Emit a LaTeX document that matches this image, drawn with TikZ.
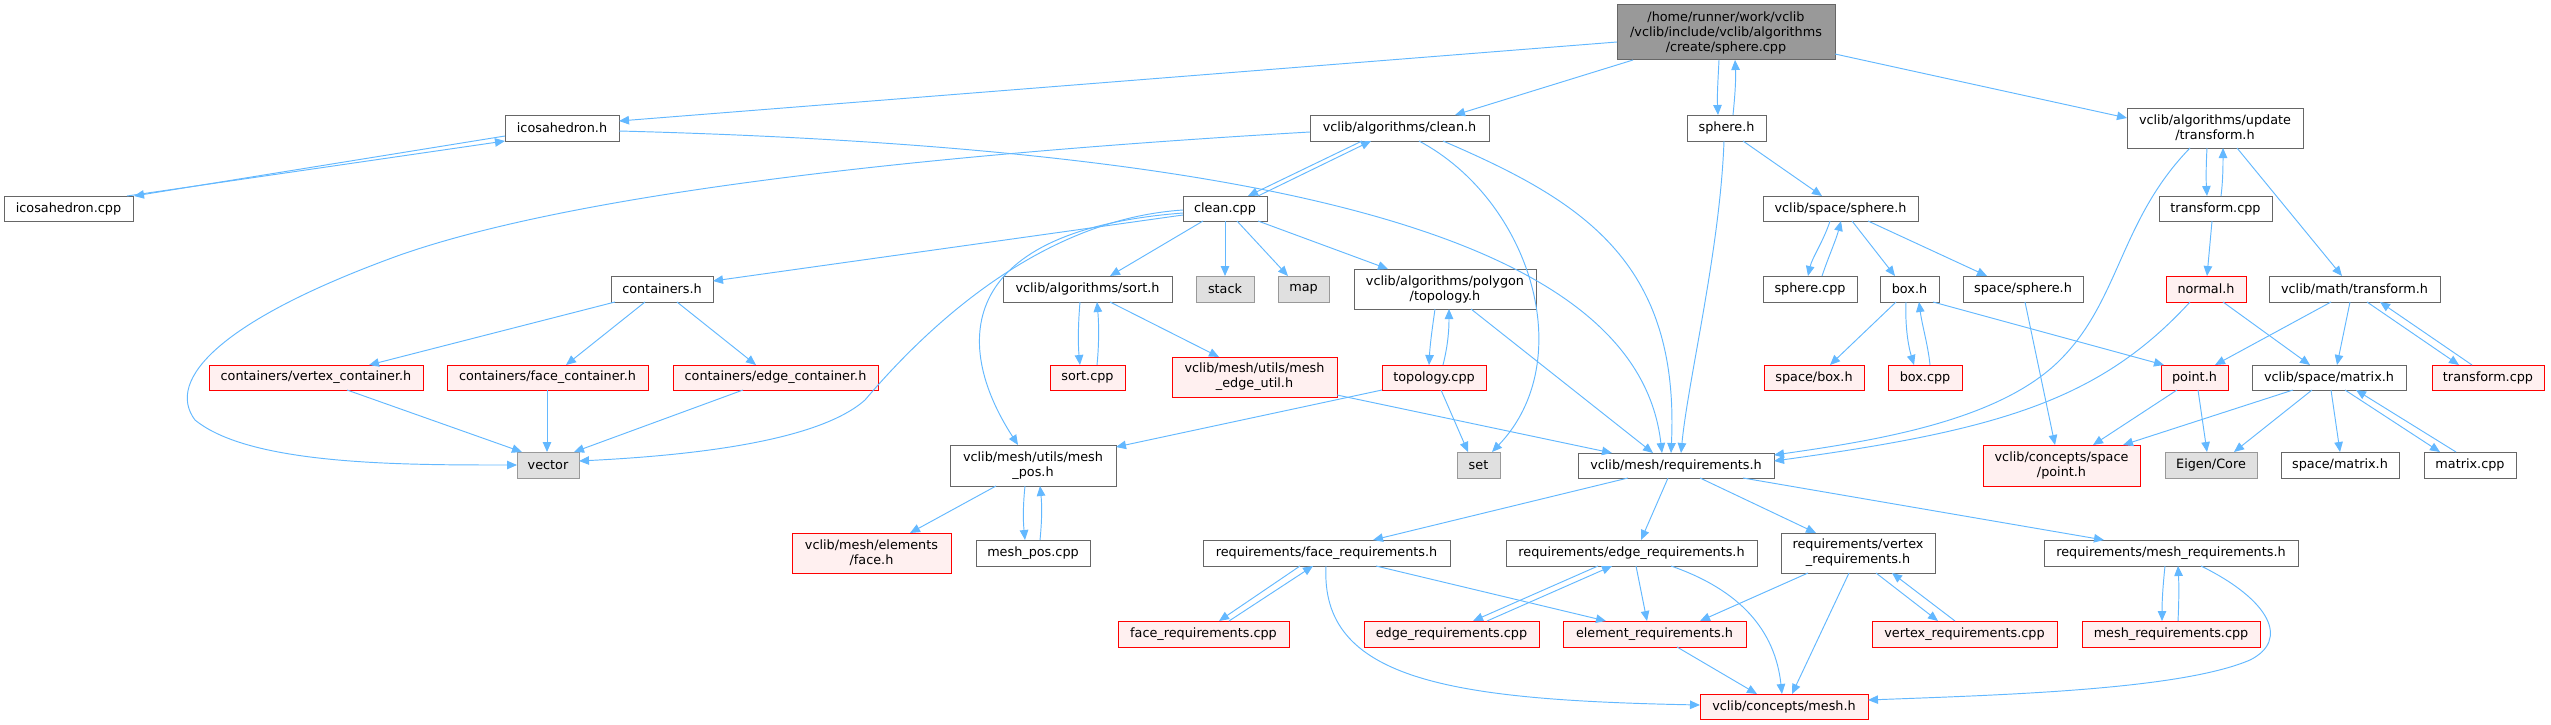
\documentclass[tikz,border=0pt]{standalone}
\usepackage{fontspec}
\setmainfont{DejaVu Sans}
\usetikzlibrary{arrows.meta,calc}
\definecolor{edgec}{HTML}{63B8FF}
\definecolor{ndgray}{HTML}{666666}
\definecolor{redfill}{HTML}{FFF0F0}
\definecolor{sysgray}{HTML}{999999}
\definecolor{sysfill}{HTML}{E0E0E0}
\definecolor{mainfill}{HTML}{999999}
\newcommand\fsz{\fontsize{12.8}{15}\selectfont}
\tikzset{
 nd/.style={draw=ndgray, fill=white, line width=1pt, inner sep=0pt, align=center, font=\fsz, text=black},
 rd/.style={nd, draw=red, fill=redfill},
 gr/.style={nd, draw=sysgray, fill=sysfill},
 mn/.style={nd, fill=mainfill},
 ed/.style={draw=edgec, line width=0.95pt, -{Triangle[length=10pt,width=8.5pt]}},
}
\begin{document}
\begin{tikzpicture}[x=1pt,y=-1pt]
\useasboundingbox (0,0) rectangle (2551,725);
% row 0
\node[mn, minimum width=218pt, minimum height=55pt] (main) at (1726,32.5) {/home/runner/work/vclib\\/vclib/include/vclib/algorithms\\/create/sphere.cpp};
% row 1
\node[nd, minimum width=114pt, minimum height=26pt] (icoh) at (562,128) {icosahedron.h};
\node[nd, minimum width=179pt, minimum height=26pt] (cleanh) at (1399.5,128) {vclib/algorithms/clean.h};
\node[nd, minimum width=79pt, minimum height=26pt] (sphereh) at (1726.5,128) {sphere.h};
\node[nd, minimum width=176pt, minimum height=40pt] (trh) at (2215,128) {vclib/algorithms/update\\/transform.h};
% row 2
\node[nd, minimum width=129pt, minimum height=25pt] (icocpp) at (68.5,208.5) {icosahedron.cpp};
\node[nd, minimum width=84pt, minimum height=25pt] (cleancpp) at (1225,208.5) {clean.cpp};
\node[nd, minimum width=155pt, minimum height=25pt] (vsph) at (1840.5,208.5) {vclib/space/sphere.h};
\node[nd, minimum width=113pt, minimum height=25pt] (trcpp) at (2215.5,208.5) {transform.cpp};
% row 3
\node[nd, minimum width=102pt, minimum height=26pt] (cont) at (662,289) {containers.h};
\node[nd, minimum width=169pt, minimum height=26pt] (sorth) at (1087.5,289) {vclib/algorithms/sort.h};
\node[gr, minimum width=58pt, minimum height=26pt] (stack) at (1225,289) {stack};
\node[gr, minimum width=51pt, minimum height=26pt] (map) at (1303.5,289) {map};
\node[nd, minimum width=182pt, minimum height=40pt] (topoh) at (1445,289) {vclib/algorithms/polygon\\/topology.h};
\node[nd, minimum width=94pt, minimum height=26pt] (sphcpp) at (1810,289) {sphere.cpp};
\node[nd, minimum width=59pt, minimum height=26pt] (boxh) at (1909.5,289) {box.h};
\node[nd, minimum width=120pt, minimum height=26pt] (ssph) at (2023,289) {space/sphere.h};
\node[rd, minimum width=80pt, minimum height=26pt] (normal) at (2206,289) {normal.h};
\node[nd, minimum width=171pt, minimum height=26pt] (mtr) at (2354.5,289) {vclib/math/transform.h};
% row 4
\node[rd, minimum width=214pt, minimum height=25pt] (vcont) at (316,377.5) {containers/vertex\_container.h};
\node[rd, minimum width=201pt, minimum height=25pt] (fcont) at (547.5,377.5) {containers/face\_container.h};
\node[rd, minimum width=205pt, minimum height=25pt] (econt) at (775.5,377.5) {containers/edge\_container.h};
\node[rd, minimum width=75pt, minimum height=25pt] (sortcpp) at (1087.5,377.5) {sort.cpp};
\node[rd, minimum width=165pt, minimum height=40pt] (meu) at (1254.5,377) {vclib/mesh/utils/mesh\\\_edge\_util.h};
\node[rd, minimum width=104pt, minimum height=25pt] (topocpp) at (1434,377.5) {topology.cpp};
\node[rd, minimum width=100pt, minimum height=25pt] (sbox) at (1814,377.5) {space/box.h};
\node[rd, minimum width=74pt, minimum height=25pt] (boxcpp) at (1925,377.5) {box.cpp};
\node[rd, minimum width=67pt, minimum height=25pt] (pointh) at (2194.5,377.5) {point.h};
\node[nd, minimum width=154pt, minimum height=25pt] (vmat) at (2329,377.5) {vclib/space/matrix.h};
\node[rd, minimum width=112pt, minimum height=25pt] (mtrcpp) at (2488,377.5) {transform.cpp};
% row 5
\node[gr, minimum width=62pt, minimum height=26pt] (vector) at (548,465) {vector};
\node[nd, minimum width=166pt, minimum height=41pt] (mposh) at (1033,465.5) {vclib/mesh/utils/mesh\\\_pos.h};
\node[gr, minimum width=43pt, minimum height=26pt] (set) at (1478.5,465) {set};
\node[nd, minimum width=196pt, minimum height=25pt] (req) at (1676,465.5) {vclib/mesh/requirements.h};
\node[rd, minimum width=157pt, minimum height=41pt] (cpoint) at (2061.5,465.5) {vclib/concepts/space\\/point.h};
\node[gr, minimum width=92pt, minimum height=26pt] (eigen) at (2211,465) {Eigen/Core};
\node[nd, minimum width=118pt, minimum height=26pt] (smat) at (2340,465) {space/matrix.h};
\node[nd, minimum width=92pt, minimum height=26pt] (matcpp) at (2470,465) {matrix.cpp};
% row 6
\node[rd, minimum width=159pt, minimum height=40pt] (faceh) at (871.5,553) {vclib/mesh/elements\\/face.h};
\node[nd, minimum width=114pt, minimum height=26pt] (mposcpp) at (1033,553) {mesh\_pos.cpp};
\node[nd, minimum width=247pt, minimum height=26pt] (freq) at (1326.5,553) {requirements/face\_requirements.h};
\node[nd, minimum width=251pt, minimum height=26pt] (ereq) at (1631.5,553) {requirements/edge\_requirements.h};
\node[nd, minimum width=154pt, minimum height=40pt] (vreq) at (1858,553) {requirements/vertex\\\_requirements.h};
\node[nd, minimum width=254pt, minimum height=26pt] (mreq) at (2171,553) {requirements/mesh\_requirements.h};
% row 7
\node[rd, minimum width=171pt, minimum height=26pt] (freqcpp) at (1203.5,634) {face\_requirements.cpp};
\node[rd, minimum width=175pt, minimum height=26pt] (ereqcpp) at (1451.5,634) {edge\_requirements.cpp};
\node[rd, minimum width=183pt, minimum height=26pt] (elreq) at (1654.5,634) {element\_requirements.h};
\node[rd, minimum width=185pt, minimum height=26pt] (vreqcpp) at (1964.5,634) {vertex\_requirements.cpp};
\node[rd, minimum width=178pt, minimum height=26pt] (mreqcpp) at (2171,634) {mesh\_requirements.cpp};
% row 8
\node[rd, minimum width=168pt, minimum height=25pt] (mesh) at (1784,706.5) {vclib/concepts/mesh.h};

% ---- edges ----
\draw[ed] ($(main)+(-109,9.5)$) -- ($(icoh)+(57,-7)$);
\draw[ed] ($(main)+(-93,27.5)$) -- ($(cleanh)+(55.5,-13)$);
\draw[ed] ($(main)+(-7,27.5)$) .. controls (1718,80) and (1717,95) .. ($(sphereh)+(-8.5,-13)$);
\draw[ed] ($(sphereh)+(6.5,-13)$) .. controls (1735,95) and (1736,80) .. ($(main)+(9,27.5)$);
\draw[ed] ($(main)+(109,21.5)$) -- ($(trh)+(-88,-10)$);
\draw[ed] ($(icoh)+(-57,8)$) -- ($(icocpp)+(65.5,-12.5)$);
\draw[ed] ($(icocpp)+(58.5,-12.5)$) -- ($(icoh)+(-57,13)$);
\draw[ed] ($(icoh)+(57,3)$) .. controls (1350,150) and (1640,260) .. ($(req)+(-14,-12.5)$);
\draw[ed] ($(cleanh)+(-89.5,4)$) .. controls (1000,150) and (600,185) .. (400,255) .. controls (220,320) and (165,380) .. (195,420) .. controls (250,465) and (400,465) .. ($(vector)+(-31,0)$);
\draw[ed] ($(cleanh)+(-37.5,13)$) -- ($(cleancpp)+(23,-12.5)$);
\draw[ed] ($(cleancpp)+(33,-12.5)$) -- ($(cleanh)+(-28.5,13)$);
\draw[ed] ($(cleanh)+(19.5,13)$) .. controls (1530,200) and (1580,360) .. ($(set)+(13.5,-13)$);
\draw[ed] ($(cleanh)+(43.5,13)$) .. controls (1580,200) and (1680,260) .. ($(req)+(-5,-12.5)$);
\draw[ed] ($(sphereh)+(-2.5,13)$) .. controls (1720,250) and (1688,380) .. ($(req)+(5,-12.5)$);
\draw[ed] ($(cleancpp)+(-42,6.5)$) -- ($(cont)+(51,-8)$);
\draw[ed] ($(cleancpp)+(-42,1.5)$) .. controls (1060,218) and (950,300) .. (865,400) .. controls (820,440) and (700,455) .. ($(vector)+(31,-4)$);
\draw[ed] ($(cleancpp)+(-42,4.5)$) .. controls (960,230) and (950,340) .. ($(mposh)+(-15,-20.5)$);
\draw[ed] ($(cleancpp)+(-22,12.5)$) -- ($(sorth)+(22.5,-13)$);
\draw[ed] ($(cleancpp)+(0,12.5)$) -- ($(stack)+(0,-13)$);
\draw[ed] ($(cleancpp)+(12,12.5)$) -- ($(map)+(-15.5,-13)$);
\draw[ed] ($(cleancpp)+(33,12.5)$) -- ($(topoh)+(-57,-20)$);
\draw[ed] ($(cont)+(-47,13)$) -- ($(vcont)+(53,-12.5)$);
\draw[ed] ($(cont)+(-17,13)$) -- ($(fcont)+(18.5,-12.5)$);
\draw[ed] ($(cont)+(15,13)$) -- ($(econt)+(-19.5,-12.5)$);
\draw[ed] ($(vcont)+(31,12.5)$) -- ($(vector)+(-26,-13)$);
\draw[ed] ($(fcont)+(-0.5,12.5)$) -- ($(vector)+(-1,-13)$);
\draw[ed] ($(econt)+(-32.5,12.5)$) -- ($(vector)+(26,-13)$);
\draw[ed] ($(sorth)+(-7.5,13)$) .. controls (1078,325) and (1078,345) .. ($(sortcpp)+(-7.5,-12.5)$);
\draw[ed] ($(sortcpp)+(9.5,-12.5)$) .. controls (1099,345) and (1099,325) .. ($(sorth)+(9.5,13)$);
\draw[ed] ($(sorth)+(22.5,13)$) -- ($(meu)+(-35.5,-20)$);
\draw[ed] ($(meu)+(82.5,18)$) -- ($(req)+(-64,-12.5)$);
\draw[ed] ($(topoh)+(-10,20)$) .. controls (1432,330) and (1430,345) .. ($(topocpp)+(-5,-12.5)$);
\draw[ed] ($(topocpp)+(9,-12.5)$) .. controls (1448,345) and (1449,330) .. ($(topoh)+(4,20)$);
\draw[ed] ($(topoh)+(26,20)$) -- ($(req)+(-23,-12.5)$);
\draw[ed] ($(topocpp)+(-52,12.5)$) -- ($(mposh)+(83,-18.5)$);
\draw[ed] ($(topocpp)+(7,12.5)$) -- ($(set)+(-10.5,-13)$);
\draw[ed] ($(mposh)+(-37,20.5)$) -- ($(faceh)+(38.5,-20)$);
\draw[ed] ($(mposh)+(-8,20.5)$) .. controls (1023,505) and (1023,520) .. ($(mposcpp)+(-8,-13)$);
\draw[ed] ($(mposcpp)+(7,-13)$) .. controls (1042,520) and (1042,505) .. ($(mposh)+(7,20.5)$);
\draw[ed] ($(sphereh)+(16.5,13)$) -- ($(vsph)+(-18.5,-12.5)$);
\draw[ed] ($(vsph)+(-10.5,12.5)$) .. controls (1824,240) and (1812,258) .. ($(sphcpp)+(-2,-13)$);
\draw[ed] ($(sphcpp)+(12,-13)$) .. controls (1828,258) and (1836,240) .. ($(vsph)+(0.5,12.5)$);
\draw[ed] ($(vsph)+(11.5,12.5)$) -- ($(boxh)+(-14.5,-13)$);
\draw[ed] ($(vsph)+(27.5,12.5)$) -- ($(ssph)+(-36,-13)$);
\draw[ed] ($(boxh)+(-13.5,13)$) -- ($(sbox)+(16,-12.5)$);
\draw[ed] ($(boxh)+(-3.5,13)$) .. controls (1905,325) and (1908,345) .. ($(boxcpp)+(-11,-12.5)$);
\draw[ed] ($(boxcpp)+(5,-12.5)$) .. controls (1928,345) and (1922,325) .. ($(boxh)+(9.5,13)$);
\draw[ed] ($(boxh)+(23.5,13)$) -- ($(pointh)+(-30.5,-12.5)$);
\draw[ed] ($(ssph)+(2,13)$) -- ($(cpoint)+(-6.5,-20.5)$);
\draw[ed] ($(trh)+(-8,20)$) .. controls (2206,165) and (2206,180) .. ($(trcpp)+(-8.5,-12.5)$);
\draw[ed] ($(trcpp)+(5.5,-12.5)$) .. controls (2223,180) and (2223,165) .. ($(trh)+(8,20)$);
\draw[ed] ($(trh)+(-25,20)$) .. controls (2120,220) and (2120,300) .. (2060,360) .. controls (2000,420) and (1880,440) .. ($(req)+(98,-10.5)$);
\draw[ed] ($(normal)+(-16,13)$) .. controls (2100,400) and (2000,430) .. ($(req)+(98,-4.5)$);
\draw[ed] ($(trh)+(22,20)$) -- ($(mtr)+(-12.5,-13)$);
\draw[ed] ($(trcpp)+(-3.5,12.5)$) -- ($(normal)+(1,-13)$);
\draw[ed] ($(normal)+(17,13)$) -- ($(vmat)+(-19,-12.5)$);
\draw[ed] ($(mtr)+(-23.5,13)$) -- ($(pointh)+(20.5,-12.5)$);
\draw[ed] ($(mtr)+(-4.5,13)$) -- ($(vmat)+(8,-12.5)$);
\draw[ed] ($(mtr)+(12.5,13)$) -- ($(mtrcpp)+(-29,-12.5)$);
\draw[ed] ($(mtrcpp)+(-16,-12.5)$) -- ($(mtr)+(25.5,13)$);
\draw[ed] ($(pointh)+(-17.5,12.5)$) -- ($(cpoint)+(31.5,-20.5)$);
\draw[ed] ($(pointh)+(3.5,12.5)$) -- ($(eigen)+(-4,-13)$);
\draw[ed] ($(vmat)+(-36,12.5)$) -- ($(cpoint)+(61.5,-20.5)$);
\draw[ed] ($(vmat)+(-17,12.5)$) -- ($(eigen)+(23,-13)$);
\draw[ed] ($(vmat)+(2,12.5)$) -- ($(smat)+(0,-13)$);
\draw[ed] ($(vmat)+(16,12.5)$) -- ($(matcpp)+(-30,-13)$);
\draw[ed] ($(matcpp)+(-14,-13)$) -- ($(vmat)+(27,12.5)$);
\draw[ed] ($(req)+(-48,12.5)$) -- ($(freq)+(46.5,-13)$);
\draw[ed] ($(req)+(-8,12.5)$) -- ($(ereq)+(9.5,-13)$);
\draw[ed] ($(req)+(24,12.5)$) -- ($(vreq)+(-42,-20)$);
\draw[ed] ($(req)+(67,12.5)$) -- ($(mreq)+(-67,-13)$);
\draw[ed] ($(freq)+(-26.5,13)$) -- ($(freqcpp)+(15.5,-13)$);
\draw[ed] ($(freqcpp)+(25.5,-13)$) -- ($(freq)+(-13.5,13)$);
\draw[ed] ($(freq)+(49.5,13)$) -- ($(elreq)+(-48.5,-13)$);
\draw[ed] ($(freq)+(-0.5,13)$) .. controls (1320,680) and (1450,700) .. ($(mesh)+(-84,-1.5)$);
\draw[ed] ($(ereq)+(-33.5,13)$) -- ($(ereqcpp)+(21.5,-13)$);
\draw[ed] ($(ereqcpp)+(35.5,-13)$) -- ($(ereq)+(-19.5,13)$);
\draw[ed] ($(ereq)+(4.5,13)$) -- ($(elreq)+(-7.5,-13)$);
\draw[ed] ($(ereq)+(39.5,13)$) .. controls (1740,590) and (1775,630) .. ($(mesh)+(-2,-12.5)$);
\draw[ed] ($(vreq)+(-50,20)$) -- ($(elreq)+(45.5,-13)$);
\draw[ed] ($(vreq)+(-9,20)$) -- ($(mesh)+(8,-12.5)$);
\draw[ed] ($(vreq)+(18,20)$) -- ($(vreqcpp)+(-26.5,-13)$);
\draw[ed] ($(vreqcpp)+(-9.5,-13)$) -- ($(vreq)+(34,20)$);
\draw[ed] ($(mreq)+(-6,13)$) .. controls (2163,585) and (2162,600) .. ($(mreqcpp)+(-9,-13)$);
\draw[ed] ($(mreqcpp)+(7,-13)$) .. controls (2179,600) and (2179,585) .. ($(mreq)+(7,13)$);
\draw[ed] ($(mreq)+(30,13)$) .. controls (2270,600) and (2290,640) .. (2250,660) .. controls (2180,690) and (2000,695) .. ($(mesh)+(84,-6.5)$);
\draw[ed] ($(elreq)+(22.5,13)$) -- ($(mesh)+(-27,-12.5)$);
\end{tikzpicture}
\end{document}
